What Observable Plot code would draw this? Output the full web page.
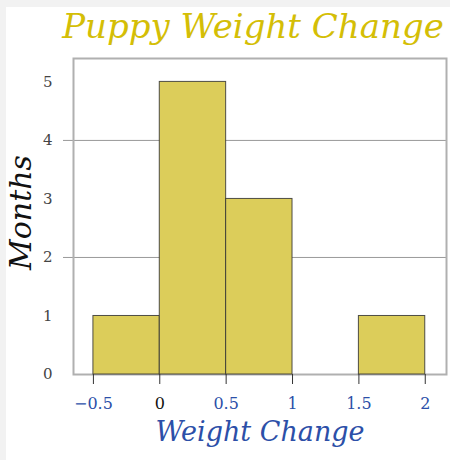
<!DOCTYPE html>
<html>
<head>
<meta charset="utf-8">
<script src="https://cdn.jsdelivr.net/npm/d3@7"></script>
<script src="https://cdn.jsdelivr.net/npm/@observablehq/plot@0.6"></script>
<style>
  html, body { margin: 0; padding: 0; background: #f2f2f2; width: 450px; height: 460px; overflow: hidden; }
  #card { position: absolute; left: 6px; top: 7px; width: 450px; height: 460px; background: #ffffff; }
  #title { position: absolute; left: 0; top: 1px; width: 450px; height: 50px; line-height: 50px;
    padding-left: 56px; box-sizing: border-box; text-align: center;
    font-family: "DejaVu Serif", serif; font-style: italic; font-size: 34px; color: #d4be06; white-space: nowrap; }
  #chart { position: absolute; left: 0; top: 50px; }
</style>
</head>
<body>
<div id="card"></div>
<div id="title">Puppy Weight Change</div>
<div id="chart"></div>
<script>
const binStart = [-0.5, 0, 0.5, 1, 1.5];
const binEnd   = [0, 0.5, 1, 1.5, 2];
const counts   = [1, 5, 3, 0, 1];
const xTicks   = [-0.5, 0, 0.5, 1, 1.5, 2];
const xTickLabels = ["−0.5", "0", "0.5", "1", "1.5", "2"];
const yTicks   = [0, 1, 2, 3, 4, 5];
const yGrid    = [2, 4];

const bins = binStart.map((s, i) => ({x1: s, x2: binEnd[i], count: counts[i]}));
const xLab = xTicks.map((t, i) => ({t, label: xTickLabels[i]}));

const serif = "DejaVu Serif";
const blue = "#2c4fa8";

const plot = Plot.plot({
  width: 450,
  height: 410,
  marginLeft: 73,
  marginRight: 4,
  marginTop: 8,
  marginBottom: 86,
  style: {fontFamily: serif, background: "transparent"},
  x: {domain: [-0.65, 2.16], axis: null},
  y: {domain: [0, 5.4], axis: null},
  color: {type: "identity"},
  marks: [
    Plot.gridY(yGrid, {stroke: "#999", strokeOpacity: 1, strokeWidth: 1}),
    Plot.axisY(yGrid, {tickSize: 10, tickFormat: () => "", stroke: "#999", label: null}),
    Plot.axisY(yTicks, {tickSize: 0, tickPadding: 21, fontSize: 15, fill: "#444", tickFormat: d => String(d), label: null}),
    Plot.frame({stroke: "#b0b0b0", strokeWidth: 2}),
    Plot.rectY(bins.filter(d => d.count > 0), {x1: "x1", x2: "x2", y: "count", fill: "#dccd5a", stroke: "#333", strokeOpacity: 0.85, strokeWidth: 1}),
    Plot.axisX(xTicks, {tickSize: 10, tickFormat: () => "", stroke: "#333", label: null}),
    Plot.text(xLab, {x: "t", text: "label", frameAnchor: "bottom", dy: 34, fontSize: 16, fill: d => d.t === 0 ? "#111" : blue}),
    Plot.text(["Weight Change"], {frameAnchor: "bottom", dy: 66, fontSize: 27, fontStyle: "italic", fill: blue}),
    Plot.text(["Months"], {frameAnchor: "left", textAnchor: "middle", rotate: -90, dx: -52, dy: -4, fontSize: 30, fontStyle: "italic", fill: "#111"})
  ]
});
document.getElementById("chart").appendChild(plot);
</script>
</body>
</html>
